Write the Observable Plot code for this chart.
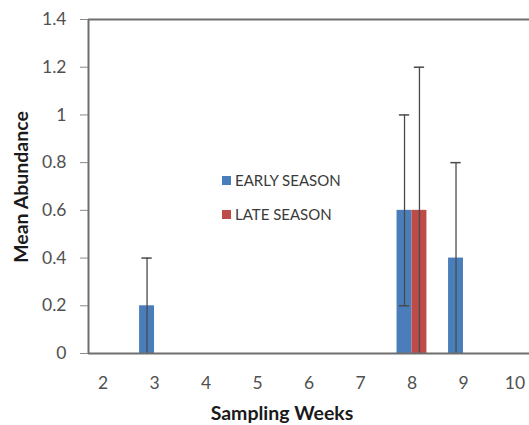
<!DOCTYPE html>
<html><head><meta charset="utf-8">
<script src="https://cdn.jsdelivr.net/npm/d3@7"></script>
<script src="https://cdn.jsdelivr.net/npm/@observablehq/plot@0.6"></script>
<style>
body{margin:0;background:#fff;font-family:Lato,"Liberation Sans",sans-serif;}
#wrap{position:relative;width:529px;height:425px;overflow:hidden;}
.ttl{position:absolute;font-weight:bold;font-size:19.5px;color:#1a1a1a;white-space:nowrap;}
#xt{left:282px;top:401px;transform:translateX(-50%);}
#yt{left:20px;top:187px;transform:translate(-50%,-50%) rotate(-90deg);}
#legend{position:absolute;left:222px;top:170px;font-size:15px;color:#3a3a3a;}
.li{display:flex;align-items:center;height:20px;margin-bottom:14px;}
.sw{width:9px;height:9px;margin-right:4px;}
</style></head><body><div id="wrap"></div>
<script>
const weeks = [2, 3, 4, 5, 6, 7, 8, 9, 10];
const earlySeason = [0, 0.2, 0, 0, 0, 0, 0.6, 0.4, 0];
const earlyError  = [0, 0.2, 0, 0, 0, 0, 0.4, 0.4, 0];
const lateSeason  = [0, 0, 0, 0, 0, 0, 0.6, 0, 0];
const lateError   = [0, 0, 0, 0, 0, 0, 0.6, 0, 0];
const yTicks = [0, 0.2, 0.4, 0.6, 0.8, 1, 1.2, 1.4];
const seriesNames = ["EARLY SEASON", "LATE SEASON"];
const seriesColors = ["#4a7ebb", "#be4b48"];
const xTitle = "Sampling Weeks";
const yTitle = "Mean Abundance";

const bw = 0.29;   // bar width in week units
const cap = 0.1;   // half cap width in week units
const rows = [];
[[earlySeason, earlyError], [lateSeason, lateError]].forEach(([vals, errs], s) => {
  weeks.forEach((w, i) => {
    if (vals[i] > 0) {
      const x1 = s === 0 ? w - bw : w;
      const x2 = s === 0 ? w : w + bw;
      rows.push({week: w, series: seriesNames[s], value: vals[i], err: errs[i],
                 x1, x2, xc: (x1 + x2) / 2, lo: vals[i] - errs[i], hi: vals[i] + errs[i]});
    }
  });
});

const xDomain = [1.718, 10.282];
const frameColor = "#6e6e6e";

const chart = Plot.plot({
  width: 529, height: 425,
  marginLeft: 88, marginRight: 0, marginTop: 19, marginBottom: 72,
  style: {fontFamily: "Lato, sans-serif", fontSize: "17.5px", color: "#505050", background: "#fff"},
  x: {domain: xDomain},
  y: {domain: [0, 1.4]},
  color: {domain: seriesNames, range: seriesColors},
  marks: [
    Plot.rectY(rows, {x1: "x1", x2: "x2", y1: 0, y2: "value", fill: "series"}),
    Plot.ruleX(rows, {x: "xc", y1: "lo", y2: "hi", stroke: "#4a4a4a", strokeWidth: 1.3}),
    Plot.ruleY(rows, {y: "hi", x1: d => d.xc - cap, x2: d => d.xc + cap, stroke: "#4a4a4a", strokeWidth: 1.5}),
    Plot.ruleY(rows.filter(d => d.lo > 0), {y: "lo", x1: d => d.xc - cap, x2: d => d.xc + cap, stroke: "#4a4a4a", strokeWidth: 1.5}),
    Plot.ruleY([0, 1.4], {stroke: frameColor, strokeWidth: 2}),
    Plot.ruleX([xDomain[0]], {stroke: frameColor, strokeWidth: 2}),
    Plot.axisY({ticks: yTicks, tickSize: 8, tickPadding: 14, tickFormat: d3.format("~g"), label: null, stroke: "#8a8a8a"}),
    Plot.axisX({ticks: weeks, tickSize: 0, tickPadding: 23, label: null})
  ]
});

const wrap = document.getElementById("wrap");
wrap.appendChild(chart);
const xt = document.createElement("div"); xt.className = "ttl"; xt.id = "xt"; xt.textContent = xTitle; wrap.appendChild(xt);
const yt = document.createElement("div"); yt.className = "ttl"; yt.id = "yt"; yt.textContent = yTitle; wrap.appendChild(yt);
const lg = document.createElement("div"); lg.id = "legend";
seriesNames.forEach((n, i) => {
  const li = document.createElement("div"); li.className = "li";
  const sw = document.createElement("span"); sw.className = "sw"; sw.style.background = seriesColors[i];
  const tx = document.createElement("span"); tx.textContent = n;
  li.appendChild(sw); li.appendChild(tx); lg.appendChild(li);
});
wrap.appendChild(lg);
</script></body></html>
